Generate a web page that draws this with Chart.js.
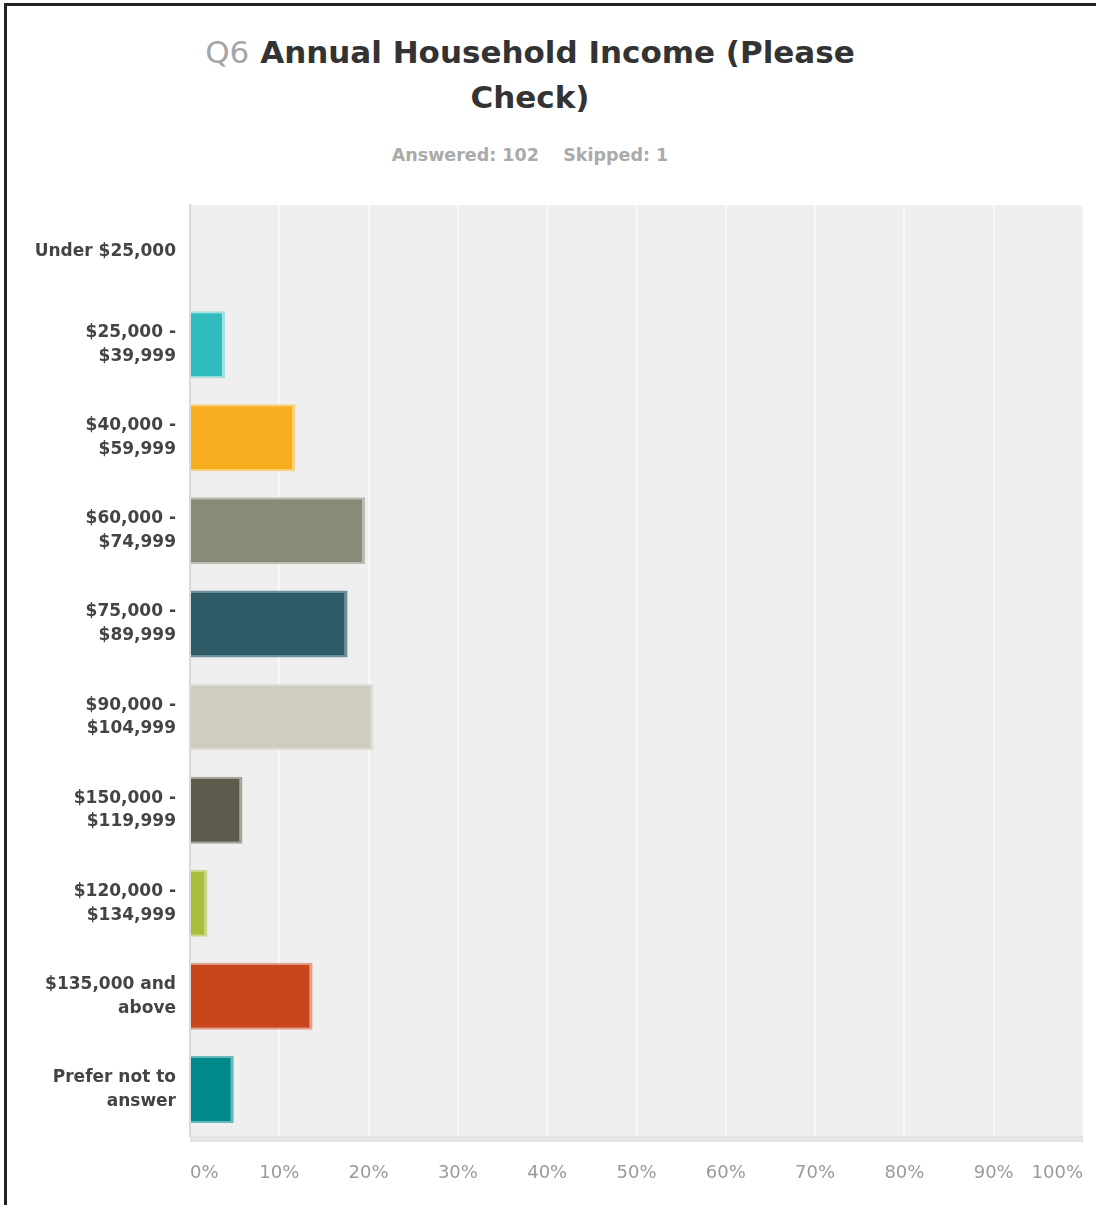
<!DOCTYPE html>
<html>
<head>
<meta charset="utf-8">
<script src="https://cdn.jsdelivr.net/npm/chart.js@4"></script>
<style>
  body { margin: 0; background: #fff; width: 1096px; height: 1205px; overflow: hidden; position: relative; }
  #frame { position: absolute; left: 4px; top: 3px; width: 1200px; height: 1300px; border-top: 3px solid #222; border-left: 3px solid #222; }
  #titulo { position: absolute; left: 180px; top: 30px; width: 700px; text-align: center; font: bold 31px "DejaVu Sans"; line-height: 45px; color: #333; }
  #titulo span { color: #a6a6a6; font-weight: normal; }
  #resumen { position: absolute; left: 280px; top: 145px; width: 500px; text-align: center; font: bold 17.5px "DejaVu Sans"; line-height: 20px; color: #aaa; }
  #grafico { position: absolute; left: 0; top: 190px; }
</style>
</head>
<body>
<div id="frame"></div>
<div id="titulo"><span>Q6</span> Annual Household Income (Please Check)</div>
<div id="resumen">Answered: 102&nbsp;&nbsp;&nbsp;&nbsp;Skipped: 1</div>
<canvas id="grafico" width="1096" height="1015"></canvas>
<script>
const grafico_canvas = document.getElementById("grafico");

// respuestas, en porcentaje
const categorias = [
  "Under $25,000",
  ["$25,000 -", "$39,999"],
  ["$40,000 -", "$59,999"],
  ["$60,000 -", "$74,999"],
  ["$75,000 -", "$89,999"],
  ["$90,000 -", "$104,999"],
  ["$150,000 -", "$119,999"],
  ["$120,000 -", "$134,999"],
  ["$135,000 and", "above"],
  ["Prefer not to", "answer"],
];
const porcentajes = [0, 3.92, 11.76, 19.61, 17.65, 20.59, 5.88, 1.96, 13.73, 4.9];
const colores = ["#31bdbf", "#31bdbf", "#f6ae1f", "#8a8a78", "#2d5c68", "#cfcdbf", "#5c5b4b", "#a9bd38", "#c8461c", "#00898a"];
const bordes = ["#a5e0e0", "#a5e0e0", "#f9cf7c", "#bcbcb2", "#6e8f98", "#e2e1d8", "#a5a49b", "#cad88a", "#e3a08a", "#66b9b9"];

// fondo gris del area y franja de abajo
const fondo = {
  id: "fondo",
  beforeDraw: (chart) => {
    const { ctx, chartArea: a } = chart;
    ctx.save();
    ctx.fillStyle = "#efefef";
    ctx.fillRect(a.left, a.top, a.right - a.left, a.bottom - a.top);
    ctx.fillStyle = "#e4e4e4";
    ctx.fillRect(a.left, a.bottom, a.right - a.left, 6);
    ctx.restore();
    // 0% a la izquierda, 100% a la derecha
    const items = chart.scales.x.getLabelItems();
    if (items.length) {
      items[0].options.textAlign = "left";
      items[items.length - 1].options.textAlign = "right";
    }
  },
};

const config = {
  type: "bar",
  data: {
    labels: categorias,
    datasets: [
      {
        data: porcentajes,
        backgroundColor: colores,
        borderColor: bordes,
        borderWidth: { top: 2, right: 3, bottom: 2, left: 0 },
        borderSkipped: false,
        barPercentage: 0.72,
        categoryPercentage: 1,
      },
    ],
  },
  options: {
    indexAxis: "y",
    responsive: false,
    devicePixelRatio: 1,
    animation: false,
    layout: { padding: { top: 15, right: 13, bottom: 0, left: 0 } },
    plugins: { legend: { display: false }, tooltip: { enabled: false } },
    scales: {
      x: {
        min: 0,
        max: 100,
        afterFit: (s) => {
          s.height = 69;
          s.paddingLeft = 0;
          s.paddingRight = 0;
        },
        border: { display: false },
        grid: { color: "#f8f8f8", lineWidth: 2, drawTicks: false },
        ticks: {
          stepSize: 10,
          padding: 27,
          color: "#9a9a9a",
          font: { family: "DejaVu Sans", size: 18 },
          callback: (v) => v + "%",
        },
      },
      y: {
        afterFit: (s) => {
          s.width = 190;
          s.paddingTop = 0;
          s.paddingBottom = 0;
        },
        border: { display: true, color: "#d9d9d9", width: 2 },
        grid: { display: false },
        ticks: {
          padding: 6,
          color: "#444",
          font: { family: "DejaVu Sans", size: 17, weight: "bold", lineHeight: 1.4 },
        },
      },
    },
  },
  plugins: [fondo],
};

new Chart(grafico_canvas, config);
</script>
</body>
</html>
